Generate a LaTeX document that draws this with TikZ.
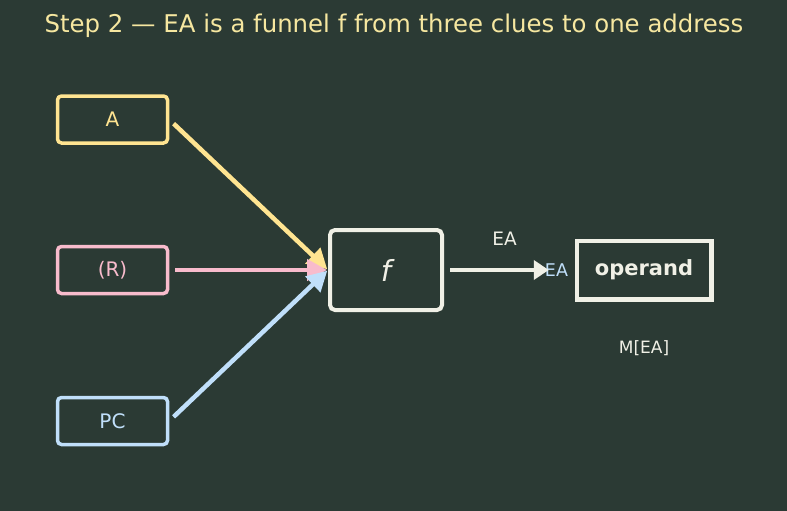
\documentclass[tikz,border=0pt]{standalone}
\usepackage{fontspec}
\setmainfont{DejaVu Sans}
\usetikzlibrary{arrows.meta}

\definecolor{bgdark}{RGB}{43,58,52}
\definecolor{titleyellow}{RGB}{246,231,160}
\definecolor{clueyellow}{RGB}{255,228,145}
\definecolor{cluepink}{RGB}{248,187,204}
\definecolor{clueblue}{RGB}{192,223,250}
\definecolor{chalk}{RGB}{240,240,230}

\tikzset{
  clue/.style={draw, rounded corners=4pt, line width=3.5pt,
    minimum width=110pt, minimum height=47pt, font=\fontsize{20}{24}\selectfont},
  feed/.style={line width=4.5pt, -{Triangle[length=20pt,width=21pt]},
    shorten <=6pt, shorten >=1pt},
  lbl/.style={text=chalk, font=\fontsize{18.5}{22}\selectfont}
}

\begin{document}
\begin{tikzpicture}[x=1pt,y=-1pt]
    % Background and frame
    \fill[bgdark] (0,0) rectangle (787,511);
    \useasboundingbox (0,0) rectangle (787,511);

    % Title
    \node[anchor=base, text=titleyellow, font=\fontsize{24.4}{28}\selectfont] (title) at (394,33)
        {Step 2 — EA is a funnel f from three clues to one address};

    % The three clues
    \node[clue, draw=clueyellow, text=clueyellow] (A) at (112.5,119.5) {A};
    \node[clue, draw=cluepink, text=cluepink] (R) at (112.5,270) {(R)};
    \node[clue, draw=clueblue, text=clueblue] (PC) at (112.5,421) {PC};

    % Funnel
    \node[draw=chalk, text=chalk, rounded corners=5pt, line width=4pt,
        minimum width=112pt, minimum height=80pt,
        font=\fontsize{29}{33}\selectfont\itshape] (f) at (386,270) {f};

    % Operand
    \node[draw=chalk, text=chalk, line width=4.5pt,
        minimum width=134.5pt, minimum height=58.5pt,
        font=\fontsize{21}{25}\selectfont\bfseries] (op) at (644,270) {operand};
    \node[text=clueblue, inner sep=0pt, font=\fontsize{17.5}{20}\selectfont] (eain) at (556.5,270) {EA};
    \node[lbl, font=\fontsize{17}{20}\selectfont] (mem) at (644,348) {M[EA]};

    % Clues into the funnel
    \draw[feed, clueyellow] (A.east) -- (f.west);
    \draw[feed, cluepink] (R.east) -- (f.west);
    \draw[feed, clueblue] (PC.east) -- (f.west);

    % Funnel to operand
    \draw[chalk, line width=4.5pt, -{Triangle[length=15pt,width=19pt]},
        shorten <=6pt, shorten >=-4pt] (f.east) -- (eain.west);
    \node[lbl] (ea) at (504.5,239) {EA};
\end{tikzpicture}
\end{document}
